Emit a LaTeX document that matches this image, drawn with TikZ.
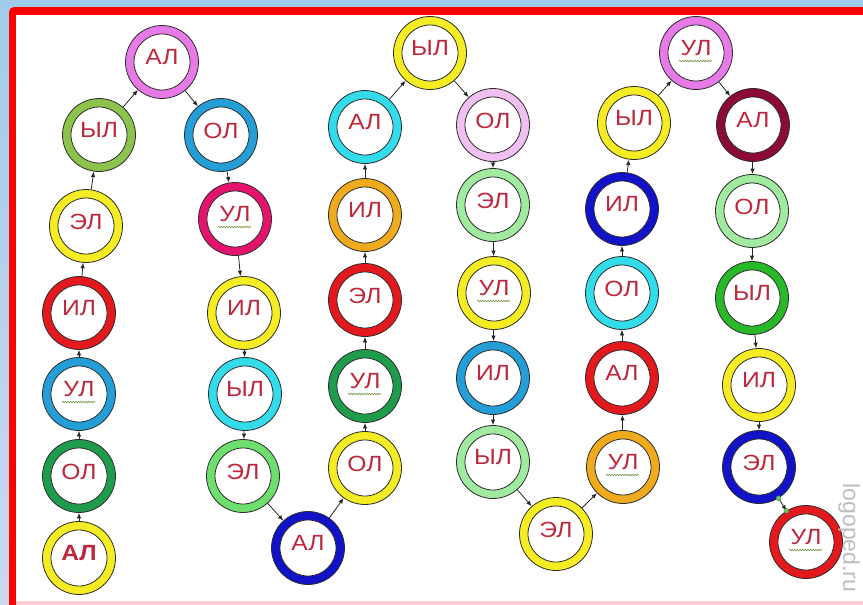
\documentclass[tikz,border=0pt]{standalone}
\usepackage{fontspec}
\setmainfont{Liberation Sans}
\newfontfamily\lblfont[FakeStretch=1.12]{Liberation Sans}
\usetikzlibrary{arrows.meta,decorations.pathmorphing}
\definecolor{bgtop}{RGB}{160,204,236}
\definecolor{bgbot}{RGB}{205,216,240}
\definecolor{framered}{RGB}{255,0,0}
\definecolor{pinkline}{RGB}{255,205,210}
\definecolor{txt}{RGB}{190,40,60}
\definecolor{rim}{RGB}{45,45,45}
\definecolor{cyel}{RGB}{245,236,35}
\definecolor{cdgreen}{RGB}{30,155,75}
\definecolor{cblue}{RGB}{35,158,214}
\definecolor{cred}{RGB}{228,25,30}
\definecolor{colive}{RGB}{140,195,75}
\definecolor{cviolet}{RGB}{232,122,232}
\definecolor{ccrimson}{RGB}{228,20,110}
\definecolor{ccyan}{RGB}{50,220,234}
\definecolor{clgreen}{RGB}{110,222,110}
\definecolor{cnavy}{RGB}{18,18,200}
\definecolor{corange}{RGB}{240,170,30}
\definecolor{clilac}{RGB}{240,192,240}
\definecolor{cpale}{RGB}{160,235,160}
\definecolor{cmaroon}{RGB}{140,10,55}
\definecolor{cgreen}{RGB}{40,185,40}
\definecolor{squigc}{RGB}{120,150,70}
\definecolor{dotc}{RGB}{100,205,90}
\tikzset{
  ringo/.style={circle, draw=rim, line width=0.8pt, minimum size=73pt, inner sep=0pt},
  ringi/.style={circle, draw=rim, line width=0.8pt, fill=white, minimum size=56pt, inner sep=0pt},
  lbl/.style={text=txt, font=\lblfont\fontsize{22}{24}\selectfont, inner sep=0pt},
  arr/.style={-{Latex[length=5.5pt,width=4.4pt]}, line width=0.8pt, draw=black!85},
  squig/.style={draw=squigc, line width=0.6pt, decorate, decoration={snake, segment length=2.6pt, amplitude=0.8pt}},
  gdot/.style={circle, fill=dotc, draw=rim!70, line width=0.4pt, minimum size=5pt, inner sep=0pt},
  wmark/.style={text=black!25, font=\fontsize{23}{25}\selectfont, inner sep=0pt}
}
\newcommand\ring[5]{%
  \node[ringo, fill=#4] (#1) at (#2,#3) {};
  \node[ringi] (#1i) at (#2,#3) {};
  \node[lbl] (#1t) at (#2,#3-4.5) {#5};
}
\newcommand\ringU[4]{%
  \ring{#1}{#2}{#3}{#4}{УЛ}%
  \draw[squig] (#2-17,#3+8) -- (#2+16,#3+8);
}
\begin{document}
\begin{tikzpicture}[x=1pt,y=-1pt]
\useasboundingbox (0,0) rectangle (863,605);
\begin{scope}
\clip (0,0) rectangle (863,605);
\shade[top color=bgtop,bottom color=bgbot] (0,0) rectangle (863,605);
\fill[framered,rounded corners=5pt] (9,7) rectangle (900,700);
\fill[white] (16,15) rectangle (900,601);
\fill[pinkline] (16,601) rectangle (900,605);
\end{scope}
% column 1
\ring{A1}{79}{558}{cyel}{\bfseries АЛ}
\ring{O1}{79}{476}{cdgreen}{ОЛ}
\ringU{U1}{79}{394}{cblue}
\ring{I1}{79}{313}{cred}{ИЛ}
\ring{E1}{86}{226}{cyel}{ЭЛ}
\ring{Y1}{99}{135}{colive}{ЫЛ}
\ring{A2}{162}{62}{cviolet}{АЛ}
% column 2
\ring{O2}{221}{135}{cblue}{ОЛ}
\ringU{U2}{235}{219}{ccrimson}
\ring{I2}{244}{313}{cyel}{ИЛ}
\ring{Y2}{245}{394}{ccyan}{ЫЛ}
\ring{E2}{243}{476}{clgreen}{ЭЛ}
\ring{A3}{308}{548}{cnavy}{АЛ}
% column 3
\ring{O3}{365}{468}{cyel}{ОЛ}
\ringU{U3}{365}{386}{cdgreen}
\ring{E3}{365}{300}{cred}{ЭЛ}
\ring{I3}{365}{215}{corange}{ИЛ}
\ring{A4}{365}{127}{ccyan}{АЛ}
\ring{Y3}{430}{53}{cyel}{ЫЛ}
% column 4
\ring{O4}{493}{125}{clilac}{ОЛ}
\ring{E4}{493}{205}{cpale}{ЭЛ}
\ringU{U4}{494}{293}{cyel}
\ring{I4}{493}{378}{cblue}{ИЛ}
\ring{Y4}{493}{462}{cpale}{ЫЛ}
\ring{E5}{556}{534}{cyel}{ЭЛ}
% column 5
\ringU{U5}{623}{467}{corange}
\ring{A5}{622}{378}{cred}{АЛ}
\ring{O5}{622}{293}{ccyan}{ОЛ}
\ring{I5}{622}{209}{cnavy}{ИЛ}
\ring{Y5}{634}{123}{cyel}{ЫЛ}
\ringU{U6}{696}{53}{cviolet}
% column 6
\ring{A6}{753}{125}{cmaroon}{АЛ}
\ring{O6}{752}{211}{cpale}{ОЛ}
\ring{Y6}{752}{298}{cgreen}{ЫЛ}
\ring{I6}{759}{385}{cyel}{ИЛ}
\ring{E6}{759}{467}{cnavy}{ЭЛ}
\ringU{U7}{806}{542}{cred}
% connectors
\foreach \a/\b in {A1/O1,O1/U1,U1/I1,I1/E1,E1/Y1,Y1/A2,A2/O2,O2/U2,U2/I2,I2/Y2,Y2/E2,E2/A3,A3/O3,O3/U3,U3/E3,E3/I3,I3/A4,A4/Y3,Y3/O4,O4/E4,E4/U4,U4/I4,I4/Y4,Y4/E5,E5/U5,U5/A5,A5/O5,O5/I5,I5/Y5,Y5/U6,U6/A6,A6/O6,O6/Y6,Y6/I6,I6/E6}
  \draw[arr] (\a) -- (\b);
\draw[arr] (E6) -- (U7) node[gdot,pos=0] (d1) {} node[gdot,pos=1] (d2) {};
% watermark
\node[wmark, rotate=-90, anchor=base] (wm) at (843,538) {logoped.ru};
\end{tikzpicture}
\end{document}
